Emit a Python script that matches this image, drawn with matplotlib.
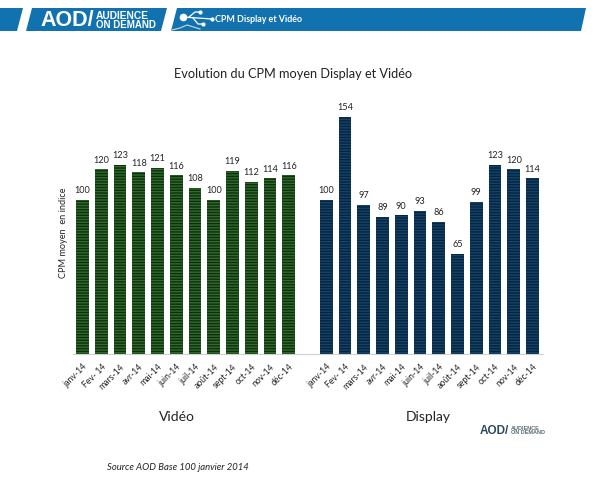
import numpy as np
import matplotlib
matplotlib.use('Agg')
import matplotlib.pyplot as plt
from matplotlib.patches import Polygon

plt.rcParams['font.family'] = ['Lato', 'DejaVu Sans']
plt.rcParams['hatch.linewidth'] = 1.0

# Donnees
mois = ['janv-14', 'Fev- 14', 'mars-14', 'avr-14', 'mai-14', 'juin-14',
        'juil-14', 'août-14', 'sept-14', 'oct-14', 'nov-14', 'déc-14']
video = [100, 120, 123, 118, 121, 116, 108, 100, 119, 112, 114, 116]
display = [100, 154, 97, 89, 90, 93, 86, 65, 99, 123, 120, 114]

W, H = 595, 482
fig = plt.figure(figsize=(W / 100, H / 100), dpi=100, facecolor='white')

# Calque en pixels pour le bandeau et les textes
fond = fig.add_axes([0, 0, 1, 1])
fond.set_xlim(0, W)
fond.set_ylim(H, 0)
fond.axis('off')

bleu = '#1272b0'
for pts in ([(0, 8), (23, 8), (17, 31), (0, 31)],
            [(32, 8), (167, 8), (161, 31), (26, 31)],
            [(177, 8), (586, 8), (581, 31), (171, 31)]):
    fond.add_patch(Polygon(pts, closed=True, fc=bleu, ec='none'))

fond.text(40, 20.5, 'AOD/', color='white', fontsize=15.5, fontweight='bold',
          va='center', ha='left', family='Liberation Sans')
fond.text(96, 16, 'AUDIENCE', color='white', fontsize=7.4, fontweight='bold',
          va='center', ha='left', family='Liberation Sans')
fond.text(96, 24.5, 'ON DEMAND', color='white', fontsize=7.0, fontweight='bold',
          va='center', ha='left', family='Liberation Sans')
fond.text(215, 20, 'CPM Display et Vidéo', color='white', fontsize=6.4,
          fontweight='bold', va='center', ha='left')

# Petit pictogramme USB
fond.plot([183, 212], [17, 19], color='white', lw=0.9)
fond.plot([189, 195, 200], [17, 12, 12], color='white', lw=0.9)
fond.plot([193, 198, 203], [18, 24, 24], color='white', lw=0.9)
fond.plot([183], [17], color='white', marker='o', ms=4.5, lw=0)
fond.plot([200, 203, 212], [12, 24, 19], color='white', marker='o', ms=2, lw=0)
fond.plot([172, 180, 187, 200], [30, 28, 25, 29], color='#cfd8de', lw=0.8)

fond.text(293, 74, 'Evolution du CPM moyen Display et Vidéo', fontsize=9.2,
          color='#222222', ha='center', va='center')
fond.text(177, 417, 'Vidéo', fontsize=10, color='#222222', ha='center', va='center')
fond.text(428, 417, 'Display', fontsize=10, color='#222222', ha='center', va='center')
fond.text(107, 468, 'Source AOD Base 100 janvier 2014', fontsize=6.8, style='italic',
          color='#222222', ha='left', va='center')
fond.text(64, 233, 'CPM moyen  en indice', fontsize=6.6, rotation=90, color='#222222',
          ha='center', va='center')

# Petit logo en bas a droite
fond.text(480, 431, 'AOD/', color='#2b4a5e', fontsize=8.5, fontweight='bold',
          ha='left', va='center', family='Liberation Sans')
fond.text(511, 428.5, 'AUDIENCE', color='#5b6b76', fontsize=4, fontweight='bold',
          ha='left', va='center', family='Liberation Sans')
fond.text(511, 433, 'ON DEMAND', color='#5b6b76', fontsize=4, fontweight='bold',
          ha='left', va='center', family='Liberation Sans')

# Axes des barres : une position vide entre les deux groupes
x0, x1, base, haut = 73, 543, 354, 100
ax = fig.add_axes([x0 / W, 1 - base / H, (x1 - x0) / W, (base - haut) / H])
ax.patch.set_alpha(0)
pas = 18.75
ax.set_xlim((x0 - 82.5) / pas, (x1 - 82.5) / pas)
ax.set_ylim(0, (base - haut) / 1.54)

x_video = np.arange(12)
x_display = np.arange(13, 25)
ax.bar(x_video, video, width=0.69, color='#2f6b2b', edgecolor='#0e2f0d', hatch='------', lw=0)
ax.bar(x_display, display, width=0.69, color='#134468', edgecolor='#062440', hatch='------', lw=0)

for xs, vals in ((x_video, video), (x_display, display)):
    for x, v in zip(xs, vals):
        ax.text(x, v + 3, str(v), ha='center', va='bottom', fontsize=6.6, color='#222222')

ax.set_xticks(np.concatenate([x_video, x_display]))
ax.set_xticklabels(mois + mois, rotation=45, ha='right', rotation_mode='anchor',
                   fontsize=6.2, color='#222222')
ax.tick_params(axis='x', length=0, pad=6)
ax.set_yticks([])
for cote in ['top', 'left', 'right']:
    ax.spines[cote].set_visible(False)
ax.spines['bottom'].set_color('#d0d0d0')

fig.savefig('out.png', dpi=100)
